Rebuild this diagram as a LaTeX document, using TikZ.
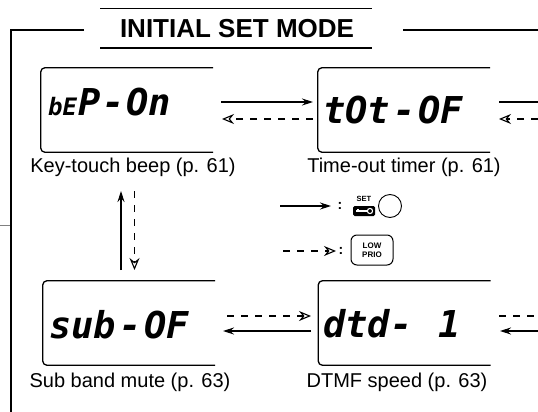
\documentclass[tikz,border=0pt]{standalone}
\usepackage{fontspec}
\setmainfont{Liberation Sans}
\newfontfamily\lcdfont{DejaVu Sans Mono}
\usetikzlibrary{arrows.meta}
\begin{document}
\begin{tikzpicture}[x=1pt,y=-1pt,
  lcdbox/.style={minimum width=172pt, minimum height=84pt, inner sep=0pt, draw=none},
  boxline/.style={line width=1.3pt, rounded corners=4pt},
  lbl/.style={font=\fontsize{20}{24}\selectfont, anchor=base, inner sep=0pt},
  lcd/.style={font=\lcdfont\bfseries\itshape\fontsize{37}{37}\selectfont, anchor=base west, inner sep=0pt},
  sol/.style={line width=1.1pt, -{Stealth[length=11pt,width=7pt]}},
  dsh/.style={line width=1.1pt, dash pattern=on 7pt off 7pt, -{Stealth[open,length=12pt,width=10pt,inset=4pt]}},
  plainsol/.style={line width=1.1pt},
  plaindsh/.style={line width=1.1pt, dash pattern=on 7pt off 7pt},
  frame/.style={line width=2.4pt},
  colon/.style={font=\bfseries\fontsize{14}{14}\selectfont, inner sep=0pt}
]
\useasboundingbox (0,0) rectangle (538,412);

% title and frame
\node[font=\bfseries\fontsize{26}{30}\selectfont, anchor=base, inner sep=0pt] (title) at (237,38) {INITIAL SET MODE};
\draw[line width=1.3pt] (100,8.6) -- (372,8.6);
\draw[line width=1.3pt] (100,48) -- (372,48);
\draw[frame] (84,30) -- (11,30) -- (11,412);
\draw[frame] (403,30) -- (538,30);
\draw[line width=0.8pt, gray] (0,225) -- (10,225);

% LCD boxes
\node[lcdbox] (b1) at (127,110) {};
\node[lcdbox] (b2) at (404,110) {};
\node[lcdbox] (b3) at (129,323) {};
\node[lcdbox] (b4) at (404.5,323) {};
\foreach \b in {b1,b2,b3,b4}
  \draw[boxline] (\b.north east) -- (\b.north west) -- (\b.south west) -- (\b.south east);

% LCD texts
\node[lcd] (t1) at (48,115) {{\fontsize{24}{24}\selectfont bE}\kern1pt P\kern2pt-\kern2pt On};
\node[lcd] (t2) at (323,123) {tOt\kern3pt-\kern3pt OF};
\node[lcd] (t3) at (49,338) {sub\kern3pt-\kern3pt OF};
\node[lcd] (t4) at (323,337) {dtd-\kern4pt\ 1};

% labels
\node[lbl] (l1) at (133,172) {Key-touch beep (p. 61)};
\node[lbl] (l2) at (404,172) {Time-out timer (p. 61)};
\node[lbl] (l3) at (130,387) {Sub band mute (p. 63)};
\node[lbl] (l4) at (397,387) {DTMF speed (p. 63)};

% connector ends
\coordinate (a1s) at (221,102);  \coordinate (a1e) at (313,102);
\coordinate (d1s) at (313,119);  \coordinate (d1e) at (222,119);
\coordinate (a2s) at (499,102);  \coordinate (a2e) at (538,102);
\coordinate (d2s) at (538,119);  \coordinate (d2e) at (499,119);
\coordinate (d3s) at (227,316);  \coordinate (d3e) at (311,316);
\coordinate (a3s) at (311,331);  \coordinate (a3e) at (223,331);
\coordinate (d4s) at (499,316);  \coordinate (d4e) at (538,316);
\coordinate (a4s) at (538,331);  \coordinate (a4e) at (500,331);
\coordinate (vus) at (121,270);  \coordinate (vue) at (121,191);
\coordinate (vds) at (134.5,191);  \coordinate (vde) at (134.5,270);

\draw[sol] (a1s) -- (a1e);
\draw[dsh] (d1s) -- (d1e);
\draw[plainsol] (a2s) -- (a2e);
\draw[dsh] (d2s) -- (d2e);
\draw[dsh] (d3s) -- (d3e);
\draw[sol] (a3s) -- (a3e);
\draw[plaindsh] (d4s) -- (d4e);
\draw[sol] (a4s) -- (a4e);
\draw[sol] (vus) -- (vue);
\draw[dsh] (vds) -- (vde);

% legend
\coordinate (ls1) at (280,206); \coordinate (le1) at (331,206);
\coordinate (ls2) at (283,251); \coordinate (le2) at (336,251);
\draw[sol] (ls1) -- (le1);
\draw[dsh] (ls2) -- (le2);
\node[colon] (c1) at (340,206) {:};
\node[colon] (c2) at (341,251) {:};
\node[font=\bfseries\fontsize{7.5}{8}\selectfont, inner sep=0pt] (settxt) at (364,199) {SET};
\node[fill=black, rounded corners=1.5pt, minimum width=22pt, minimum height=10pt, inner sep=0pt] (key) at (364,211) {};
\draw[white, line width=1.3pt] ([xshift=-8pt]key.center) -- ([xshift=3pt]key.center);
\draw[white, line width=1.1pt] ([xshift=-6pt]key.center) -- ([xshift=-6pt,yshift=2.5pt]key.center);
\draw[white, line width=1.1pt] ([xshift=6pt]key.center) circle (2.6pt);
\node[draw, circle, line width=0.9pt, minimum size=23pt, inner sep=0pt] (setbtn) at (390,206) {};
\node[draw, line width=1pt, rounded corners=6pt, minimum width=42pt, minimum height=30pt, inner sep=0pt,
      font=\bfseries\fontsize{8}{9}\selectfont, align=center] (lowprio) at (372,250) {LOW\\PRIO};
\end{tikzpicture}
\end{document}
